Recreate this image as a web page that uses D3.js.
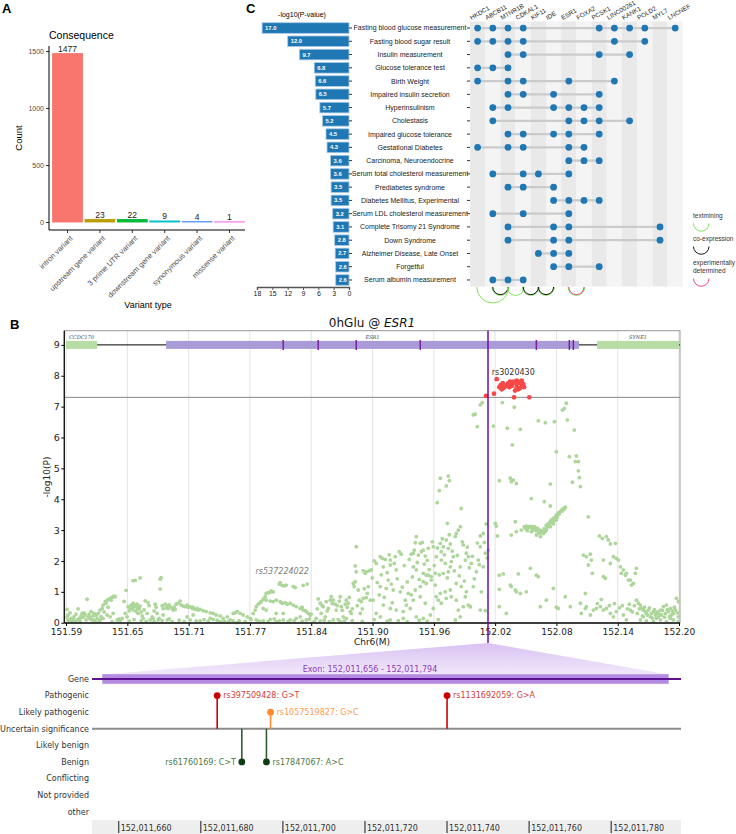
<!DOCTYPE html>
<html>
<head>
<meta charset="utf-8">
<script src="https://cdn.jsdelivr.net/npm/d3@7"></script>
<style>
  body { margin: 0; background: #fff; }
  svg { display: block; }
</style>
</head>
<body>
<svg id="fig" width="736" height="834"></svg>
<script>
// ---------- Panel A: variant consequences
const consequenceTypes = ["intron variant", "upstream gene variant", "3 prime UTR variant",
  "downstream gene variant", "synonymous variant", "missense variant"];
const consequenceCounts = [1477, 23, 22, 9, 4, 1];
const countTicks = [0, 500, 1000, 1500];

// ---------- Panel C: trait enrichment
const traits = ["Fasting blood glucose measurement", "Fasting blood sugar result", "Insulin measurement",
  "Glucose tolerance test", "Birth Weight", "Impaired insulin secretion", "Hyperinsulinism", "Cholestasis",
  "Impaired glucose tolerance", "Gestational Diabetes", "Carcinoma, Neuroendocrine",
  "Serum total cholesterol measurement", "Prediabetes syndrome", "Diabetes Mellitus, Experimental",
  "Serum LDL cholesterol measurement", "Complete Trisomy 21 Syndrome", "Down Syndrome",
  "Alzheimer Disease, Late Onset", "Forgetful", "Serum albumin measurement"];
const traitLogP = [17.0, 12.0, 9.7, 6.8, 6.6, 6.5, 5.7, 5.2, 4.5, 4.3, 3.6, 3.6, 3.5, 3.5, 3.2, 3.1, 2.8, 2.7, 2.6, 2.6];
const pvalTicks = [18, 15, 12, 9, 6, 3, 0];
const matrixGenes = ["HKDC1", "ABCB11", "MTNR1B", "CDKAL1", "KIF11", "IDE", "ESR1", "FOXA2", "PCSK1",
  "LINC00261", "KANK1", "POLD2", "MYL7", "LNCNEF"];
const traitGenes = [
  ["HKDC1", "ABCB11", "MTNR1B", "CDKAL1", "PCSK1", "LINC00261", "KANK1", "POLD2", "LNCNEF"],
  ["HKDC1", "ABCB11", "MTNR1B", "CDKAL1", "LINC00261", "POLD2"],
  ["MTNR1B", "CDKAL1", "PCSK1", "KANK1"],
  ["HKDC1", "ABCB11", "MTNR1B"],
  ["HKDC1", "MTNR1B", "CDKAL1", "ESR1", "LINC00261"],
  ["MTNR1B", "CDKAL1", "IDE", "PCSK1"],
  ["ABCB11", "MTNR1B", "IDE", "ESR1", "FOXA2", "PCSK1"],
  ["ABCB11", "ESR1", "FOXA2", "PCSK1", "KANK1"],
  ["MTNR1B", "CDKAL1", "IDE", "ESR1", "PCSK1"],
  ["HKDC1", "MTNR1B", "CDKAL1", "ESR1", "FOXA2"],
  ["ESR1", "FOXA2", "PCSK1"],
  ["ABCB11", "CDKAL1", "KIF11", "ESR1"],
  ["MTNR1B", "CDKAL1", "IDE"],
  ["IDE", "ESR1", "FOXA2", "PCSK1"],
  ["ABCB11", "CDKAL1", "ESR1"],
  ["MTNR1B", "IDE", "ESR1", "MYL7"],
  ["MTNR1B", "IDE", "ESR1", "MYL7"],
  ["KIF11", "IDE", "ESR1"],
  ["IDE", "ESR1", "PCSK1"],
  ["ABCB11", "MTNR1B", "CDKAL1"]
];
const linkTypes = ["textmining", "co-expression", "experimentally determined"];
const geneLinks = [
  ["HKDC1", "MTNR1B", "textmining"],
  ["ABCB11", "MTNR1B", "textmining"], ["ABCB11", "MTNR1B", "co-expression"],
  ["MTNR1B", "CDKAL1", "textmining"],
  ["CDKAL1", "KIF11", "textmining"], ["CDKAL1", "KIF11", "co-expression"],
  ["KIF11", "IDE", "textmining"], ["KIF11", "IDE", "co-expression"],
  ["ESR1", "FOXA2", "textmining"], ["ESR1", "FOXA2", "experimentally determined"]
];

// ---------- Panel B: locus zoom around ESR1 (Chr6, Mb)
const locusRange = [151.5899, 152.2026];
const locusTicks = [151.5899, 151.6512, 151.7125, 151.7737, 151.8350, 151.8963, 151.9576, 152.0188, 152.0801, 152.1414, 152.2026];
const locusTickLabels = ["151.59", "151.65", "151.71", "151.77", "151.84", "151.90", "151.96", "152.02", "152.08", "152.14", "152.20"];
const logPTicks = [0, 1, 2, 3, 4, 5, 6, 7, 8, 9];
const sigThreshold = 7.3;
const leadPos = 152.0117;
const trackGeneNames = ["CCDC170", "ESR1", "SYNE1"];
const trackGeneStarts = [151.5899, 151.690, 152.1207];
const trackGeneEnds = [151.621, 152.1026, 152.2026];
const esr1Exons = [151.807, 151.842, 151.880, 151.944, 152.060, 152.093, 152.097];

const greenSnps = [
  [151.591,0.43],[151.591,0.19],[151.592,0.09],[151.593,0.03],[151.595,0.14],[151.596,0.06],[151.597,0.11],[151.599,0.04],
  [151.601,0.09],[151.602,0.45],[151.603,0.14],[151.605,0.22],[151.606,0.30],[151.607,0.17],[151.609,0.25],[151.610,0.09],
  [151.611,0.76],[151.612,0.19],[151.613,0.28],[151.615,0.36],[151.616,0.09],[151.617,0.22],[151.619,0.03],[151.621,0.14],
  [151.592,0.25],[151.594,0.32],[151.598,0.20],[151.600,0.28],[151.604,0.15],[151.608,0.32],[151.614,0.18],[151.618,0.30],
  [151.620,0.24],[151.598,0.02],[151.604,0.05],[151.614,0.12],[151.618,0.08],
  [151.622,0.30],[151.624,0.41],[151.626,0.46],[151.627,0.57],[151.629,0.68],[151.630,0.63],[151.631,0.73],[151.633,0.76],
  [151.634,0.79],[151.635,0.73],[151.636,0.82],[151.637,0.84],[151.638,0.86],[151.639,0.84],[151.624,0.09],[151.627,0.14],
  [151.631,0.25],[151.634,0.19],[151.637,0.30],[151.641,0.09],[151.644,0.06],[151.646,0.14],[151.648,0.69],[151.650,1.05],
  [151.649,0.30],[151.651,0.19],[151.628,0.35],[151.632,0.50],[151.625,0.20],[151.623,0.04],[151.636,0.03],[151.643,0.12],
  [151.652,0.52],[151.654,0.46],[151.655,0.57],[151.657,0.41],[151.657,0.63],[151.659,0.52],[151.660,0.36],[151.661,0.60],
  [151.661,0.43],[151.662,0.30],[151.663,0.46],[151.664,0.54],[151.657,1.36],[151.659,1.37],[151.664,1.45],[151.666,0.22],
  [151.667,0.14],[151.669,0.71],[151.671,0.30],[151.672,0.65],[151.674,0.09],[151.676,0.19],[151.677,0.14],[151.679,0.60],
  [151.681,0.30],[151.682,0.09],[151.683,0.14],[151.684,1.09],[151.684,1.41],[151.685,1.46],[151.687,0.25],[151.687,0.46],
  [151.689,0.60],[151.691,0.54],[151.692,0.46],[151.694,0.52],[151.696,0.46],[151.697,0.41],[151.699,0.43],[151.691,0.09],
  [151.696,0.03],[151.653,0.38],[151.656,0.50],[151.658,0.58],[151.662,0.49],[151.665,0.35],[151.668,0.42],[151.673,0.55],
  [151.678,0.38],[151.680,0.50],[151.686,0.55],[151.690,0.48],[151.693,0.58],[151.698,0.50],[151.653,0.05],[151.658,0.10],
  [151.665,0.06],[151.670,0.04],[151.678,0.03],[151.686,0.07],[151.693,0.12],
  [151.700,0.60],[151.702,0.63],[151.704,0.70],[151.705,0.57],[151.707,0.54],[151.709,0.52],[151.711,0.57],[151.712,0.50],
  [151.714,0.52],[151.716,0.46],[151.717,0.50],[151.719,0.43],[151.721,0.46],[151.722,0.41],[151.724,0.43],[151.727,0.39],
  [151.730,0.36],[151.734,0.32],[151.737,0.30],[151.740,0.25],[151.744,0.22],[151.747,0.14],[151.751,0.19],[151.754,0.09],
  [151.757,0.30],[151.759,0.32],[151.761,0.36],[151.764,0.30],[151.767,0.25],[151.771,0.19],[151.774,0.14],[151.714,0.09],
  [151.724,0.06],[151.737,0.11],[151.744,0.03],[151.757,0.06],[151.761,0.00],[151.711,0.19],[151.717,0.25],[151.734,0.14],
  [151.703,0.08],[151.708,0.03],[151.720,0.06],[151.728,0.10],[151.732,0.04],[151.741,0.08],[151.748,0.05],[151.752,0.03],
  [151.763,0.07],[151.769,0.04],[151.775,0.10],
  [151.777,0.30],[151.779,0.41],[151.780,0.52],[151.782,0.60],[151.784,0.65],[151.785,0.68],[151.787,0.76],[151.789,0.84],
  [151.790,0.95],[151.792,0.97],[151.794,0.99],[151.795,1.03],[151.797,1.00],[151.803,1.25],[151.804,1.30],[151.806,1.21],
  [151.808,1.19],[151.810,1.22],[151.817,1.17],[151.819,1.14],[151.827,1.21],[151.831,1.25],[151.790,0.73],[151.794,0.70],
  [151.797,0.68],[151.800,0.73],[151.804,0.68],[151.806,0.63],[151.809,0.65],[151.811,0.60],[151.814,0.63],[151.817,0.57],
  [151.820,0.52],[151.824,0.46],[151.826,0.50],[151.827,0.41],[151.829,0.39],[151.830,0.36],[151.832,0.30],[151.834,0.25],
  [151.835,0.28],[151.780,0.09],[151.787,0.06],[151.794,0.11],[151.800,0.03],[151.807,0.09],[151.814,0.09],[151.820,0.14],
  [151.824,0.19],[151.830,0.09],[151.787,0.46],[151.790,0.41],[151.800,0.30],[151.807,0.30],[151.783,0.05],[151.792,0.03],
  [151.798,0.12],[151.803,0.06],[151.812,0.04],[151.818,0.07],[151.826,0.05],[151.833,0.12],[151.838,0.04],
  [151.840,0.14],[151.842,0.77],[151.844,0.63],[151.845,0.30],[151.847,0.52],[151.849,0.19],[151.850,0.68],[151.852,0.46],
  [151.854,0.73],[151.855,0.84],[151.857,0.73],[151.859,0.60],[151.860,0.41],[151.864,0.84],[151.865,0.52],[151.867,0.19],
  [151.870,0.73],[151.872,0.63],[151.874,0.36],[151.875,0.30],[151.877,1.27],[151.878,1.17],[151.879,1.33],[151.879,1.84],
  [151.880,2.46],[151.880,1.65],[151.882,1.06],[151.883,0.73],[151.884,0.30],[151.885,0.68],[151.887,1.68],[151.887,0.79],
  [151.889,1.60],[151.890,1.65],[151.890,0.81],[151.892,1.17],[151.893,1.68],[151.894,0.73],[151.857,0.09],[151.864,0.03],
  [151.844,0.06],[151.870,0.14],[151.841,0.45],[151.846,0.55],[151.851,0.38],[151.856,0.62],[151.861,0.55],[151.863,0.70],
  [151.866,0.40],[151.869,0.60],[151.871,0.50],[151.873,0.82],[151.876,0.45],[151.881,0.55],[151.886,0.45],[151.888,1.10],
  [151.891,0.95],[151.848,0.08],[151.853,0.03],[151.862,0.10],[151.868,0.05],[151.876,0.07],[151.886,0.04],
  [151.895,1.71],[151.897,0.73],[151.900,1.92],[151.900,0.30],[151.904,2.14],[151.904,1.17],[151.907,1.81],[151.907,0.57],
  [151.909,2.05],[151.910,1.11],[151.912,1.38],[151.914,2.03],[151.914,1.87],[151.914,0.46],[151.917,1.06],[151.919,2.14],
  [151.920,1.71],[151.920,0.41],[151.924,1.00],[151.925,2.22],[151.927,0.36],[151.929,0.73],[151.930,0.57],[151.932,0.95],
  [151.934,0.46],[151.927,0.14],[151.914,0.09],[151.904,0.19],[151.896,1.45],[151.898,2.00],[151.901,1.30],[151.903,0.90],
  [151.905,1.55],[151.906,2.08],[151.908,0.82],[151.911,1.62],[151.913,2.20],[151.915,1.25],[151.916,0.65],[151.918,1.92],
  [151.921,1.42],[151.923,2.30],[151.926,1.15],[151.928,1.85],[151.931,1.32],[151.933,2.05],[151.898,0.10],[151.911,0.05],
  [151.922,0.07],[151.931,0.03],
  [151.935,2.22],[151.937,2.25],[151.939,2.59],[151.940,2.79],[151.942,2.19],[151.944,2.57],[151.945,2.30],[151.947,2.35],
  [151.949,2.16],[151.952,2.41],[151.957,2.46],[151.937,1.81],[151.940,1.71],[151.947,1.60],[151.950,1.54],[151.952,1.54],
  [151.955,1.49],[151.959,1.60],[151.944,1.17],[151.947,1.33],[151.950,1.27],[151.955,1.38],[151.959,1.22],[151.937,0.73],
  [151.944,0.84],[151.949,0.63],[151.940,0.19],[151.947,0.14],[151.954,0.25],[151.957,0.46],[151.935,0.90],[151.939,1.06],
  [151.960,0.84],[151.936,1.48],[151.938,2.35],[151.941,1.95],[151.943,1.40],[151.946,2.60],[151.948,1.90],[151.951,2.02],
  [151.953,1.72],[151.956,2.62],[151.958,1.85],[151.943,0.08],[151.951,0.05],
  [151.961,3.89],[151.963,4.28],[151.964,4.68],[151.970,4.43],[151.972,4.75],[151.973,4.60],[151.971,3.22],[151.964,2.57],
  [151.965,2.30],[151.967,2.46],[151.970,2.68],[151.974,2.55],[151.972,2.41],[151.960,2.14],[151.965,2.03],[151.969,1.92],
  [151.974,1.81],[151.975,1.98],[151.964,0.95],[151.969,1.00],[151.974,1.06],[151.962,0.73],[151.965,0.63],[151.970,0.79],
  [151.975,0.84],[151.967,1.60],[151.972,1.65],[151.961,2.42],[151.963,1.55],[151.966,2.72],[151.968,2.20],[151.971,1.45],
  [151.973,2.85],[151.962,0.10],
  [151.977,2.14],[151.979,2.79],[151.980,2.89],[151.982,3.00],[151.984,3.11],[151.985,3.70],[151.987,2.52],[151.989,2.03],
  [151.990,2.25],[151.992,2.14],[151.984,1.81],[151.980,1.27],[151.985,1.17],[151.990,1.00],[151.982,0.41],[151.984,0.19],
  [151.979,0.09],[151.987,0.52],[151.992,0.57],[151.994,0.52],[151.980,0.73],[151.989,0.84],[151.976,2.32],[151.978,1.68],
  [151.981,2.18],[151.983,1.52],[151.986,2.62],[151.988,1.35],[151.991,2.45],[151.993,1.78],
  [151.997,6.73],[151.999,6.76],[152.001,6.35],[152.004,7.06],[152.006,7.13],[152.004,2.81],[152.007,2.89],[152.010,3.20],
  [152.009,2.25],[152.012,2.35],[152.004,2.46],[151.995,1.92],[152.002,2.03],[151.994,0.52],[152.004,0.41],[152.009,0.39],
  [152.000,1.65],[152.007,1.81],[151.997,1.17],[152.005,1.00],[151.996,2.15],[151.998,1.42],[152.001,2.58],[152.003,1.88],
  [152.008,2.60],[152.011,2.10],
  [152.017,6.37],[152.019,3.22],[152.020,3.13],[152.021,2.81],[152.023,4.60],[152.023,1.54],[152.023,1.08],[152.026,7.13],
  [152.027,1.58],[152.031,6.30],[152.034,4.68],[152.035,4.57],[152.036,5.76],[152.037,4.62],[152.038,6.98],[152.039,3.27],
  [152.040,4.51],[152.035,2.84],[152.040,2.95],[152.044,6.26],[152.045,3.00],[152.042,1.58],[152.035,1.17],[152.039,1.06],
  [152.040,1.00],[152.044,0.95],[152.034,1.22],[152.050,1.00],[152.023,0.52],[152.030,0.30],
  [152.048,3.11],[152.050,3.13],[152.051,3.06],[152.053,3.11],[152.054,3.08],[152.056,3.05],[152.058,3.11],[152.059,3.02],
  [152.060,2.98],[152.062,2.95],[152.064,3.00],[152.065,2.92],[152.067,2.89],[152.051,2.98],[152.055,2.95],[152.060,2.84],
  [152.064,2.79],[152.069,2.95],[152.070,3.16],[152.072,3.22],[152.074,3.27],[152.075,3.33],[152.077,3.38],[152.079,3.43],
  [152.080,3.49],[152.082,3.56],[152.084,3.60],[152.085,3.65],[152.087,3.70],[152.089,3.74],[152.074,3.11],[152.077,3.20],
  [152.080,3.33],[152.070,3.00],[152.055,4.02],[152.068,3.92],[152.074,3.78],[152.074,4.49],[152.062,6.54],[152.069,6.48],
  [152.078,6.51],[152.080,5.54],[152.086,6.89],[152.088,6.94],[152.090,7.11],[152.091,6.57],[152.054,1.76],[152.060,1.54],
  [152.062,1.49],[152.077,1.11],[152.082,0.46],[152.089,0.84],[152.094,0.52],[152.064,0.52],[152.080,0.50],[152.070,0.73],
  [152.049,3.05],[152.052,3.09],[152.055,3.12],[152.057,3.00],[152.061,3.06],[152.063,2.90],[152.066,2.97],[152.068,3.05],
  [152.071,3.10],[152.073,3.18],[152.076,3.25],[152.078,3.30],[152.081,3.42],[152.083,3.52],[152.086,3.62],[152.088,3.68],
  [152.093,5.38],[152.096,4.55],[152.098,6.24],[152.099,5.22],[152.100,5.40],[152.102,5.22],[152.102,4.92],[152.103,4.70],
  [152.104,4.41],[152.112,3.43],[152.107,2.19],[152.110,2.14],[152.114,2.22],[152.115,2.03],[152.112,1.87],[152.116,1.60],
  [152.104,0.63],[152.109,0.46],[152.110,0.52],[152.117,0.41],[152.120,0.46],[152.105,0.30],[152.114,0.25],[152.109,0.95],
  [152.123,2.81],[152.126,2.73],[152.130,2.79],[152.132,2.68],[152.134,2.55],[152.139,2.57],[152.127,2.03],[152.134,1.92],
  [152.137,2.14],[152.140,2.08],[152.142,2.03],[152.127,1.49],[152.129,1.44],[152.144,1.81],[152.145,1.60],[152.147,1.71],
  [152.149,1.54],[152.150,1.60],[152.152,1.38],[152.154,1.38],[152.157,1.27],[152.159,1.60],[152.160,1.76],[152.155,1.22],
  [152.124,0.52],[152.127,0.41],[152.134,0.30],[152.140,0.36],[152.147,0.25],[152.154,0.41],[152.160,0.73],[152.130,0.46],
  [152.137,0.19],[152.150,0.09],[152.121,0.62],[152.125,0.75],[152.133,0.55],[152.138,0.62],[152.143,0.48],[152.146,0.55],
  [152.151,0.45],[152.153,0.60],[152.156,0.35],[152.158,0.55],
  [152.162,0.63],[152.164,0.57],[152.165,0.46],[152.167,0.41],[152.169,0.36],[152.170,0.30],[152.172,0.41],[152.174,0.19],
  [152.175,0.30],[152.177,0.36],[152.179,0.25],[152.180,0.30],[152.182,0.19],[152.184,0.41],[152.185,0.25],[152.187,0.52],
  [152.189,0.30],[152.190,0.57],[152.192,0.36],[152.194,0.46],[152.195,0.25],[152.197,0.30],[152.199,0.41],[152.200,0.79],
  [152.202,0.68],[152.202,0.19],[152.164,0.09],[152.170,0.06],[152.177,0.03],[152.184,0.09],[152.190,0.03],[152.197,0.09],
  [152.202,0.03],[152.167,0.19],[152.180,0.14],[152.194,0.14],[152.161,0.30],[152.163,0.45],[152.166,0.22],[152.168,0.50],
  [152.171,0.25],[152.173,0.48],[152.176,0.15],[152.178,0.42],[152.181,0.35],[152.183,0.28],[152.186,0.40],[152.188,0.18],
  [152.191,0.42],[152.193,0.20],[152.196,0.38],[152.198,0.50],[152.201,0.32]
];
const redSnps = [
  [152.0097,7.35],[152.0177,7.42],[152.0204,7.89],[152.0230,7.63],[152.0244,7.70],[152.0254,7.56],[152.0264,7.76],
  [152.0270,7.60],[152.0287,7.65],[152.0304,7.70],[152.0320,7.76],[152.0330,7.63],[152.0337,7.81],[152.0354,7.78],
  [152.0354,7.67],[152.0370,7.81],[152.0377,7.30],[152.0387,7.76],[152.0387,7.52],[152.0404,7.84],[152.0404,7.63],
  [152.0420,7.76],[152.0420,7.56],[152.0437,7.81],[152.0437,7.60],[152.0454,7.84],[152.0454,7.67],[152.0470,7.73],
  [152.0477,7.63],[152.0530,7.30]
];
const leadSnp = { id: "rs3020430", pos: 152.0204, logp: 7.89 };
const otherSnp = { id: "rs537224022", pos: 151.806, logp: 1.65 };

// ---------- Panel B bottom: ClinVar variants in the exon
const exonStart = 152011656, exonEnd = 152011794;
const clinSigLevels = ["Gene", "Pathogenic", "Likely pathogenic", "Uncertain significance", "Likely benign",
  "Benign", "Conflicting", "Not provided", "other"];
const clinvarIds = ["rs397509428", "rs1057519827", "rs61760169", "rs17847067", "rs1131692059"];
const clinvarPos = [152011684, 152011697, 152011690, 152011696, 152011740];
const clinvarChange = ["G>T", "G>C", "C>T", "A>C", "G>A"];
const clinvarClass = ["Pathogenic", "Likely pathogenic", "Benign", "Benign", "Pathogenic"];
const bpTicks = [152011660, 152011680, 152011700, 152011720, 152011740, 152011760, 152011780];

// ======================================================================
const svg = d3.select("#fig");
const SANS = "'Liberation Sans', Arial, sans-serif";
const DEJAVU = "'DejaVu Sans', sans-serif";

[["A", 2, 13], ["C", 246, 13], ["B", 10, 329]].forEach(([t, x, y]) => {
  svg.append("text").attr("x", x).attr("y", y).attr("font-family", SANS)
    .attr("font-weight", "bold").attr("font-size", 13).text(t);
});

// ---------------- Panel A
const consequenceColors = ["#F8766D", "#B79F00", "#00BA38", "#00BFC4", "#619CFF", "#F564E3"];
const gA = svg.append("g").attr("font-family", SANS);
const xA = d3.scaleBand().domain(consequenceTypes).range([52, 245]).paddingInner(0.08).paddingOuter(0.02);
const yA = d3.scaleLinear().domain([0, 1500]).range([222, 51]);

gA.append("text").attr("x", 49).attr("y", 39).attr("font-size", 10.5).text("Consequence");

gA.selectAll("rect.bar").data(consequenceCounts).join("rect")
  .attr("class", "bar")
  .attr("x", (d, i) => xA(consequenceTypes[i]))
  .attr("width", xA.bandwidth())
  .attr("y", d => yA(d))
  .attr("height", d => yA(0) - yA(d))
  .attr("fill", (d, i) => consequenceColors[i])
  .attr("stroke", (d, i) => consequenceColors[i])
  .attr("stroke-width", 0.9);

gA.selectAll("text.val").data(consequenceCounts).join("text")
  .attr("class", "val")
  .attr("x", (d, i) => xA(consequenceTypes[i]) + xA.bandwidth() / 2)
  .attr("y", d => yA(d) - 1.5)
  .attr("text-anchor", "middle").attr("font-size", 8.5).attr("fill", "#222")
  .text(d => d);

const axA = gA.append("g").attr("transform", "translate(49,0)")
  .call(d3.axisLeft(yA).tickValues(countTicks).tickFormat(d3.format("d")).tickSize(3).tickPadding(2));
axA.select(".domain").remove();
axA.selectAll("text").attr("font-size", 7).attr("fill", "#4d4d4d").attr("font-family", SANS);
axA.selectAll("line").attr("stroke", "#333");
gA.append("line").attr("x1", 49).attr("x2", 49).attr("y1", 46).attr("y2", 230).attr("stroke", "#000");
gA.append("line").attr("x1", 49).attr("x2", 245).attr("y1", 230).attr("y2", 230).attr("stroke", "#000");

const axAx = gA.append("g").attr("transform", "translate(0,230)")
  .call(d3.axisBottom(xA).tickSize(3).tickFormat(""));
axAx.select(".domain").remove();
axAx.selectAll("line").attr("stroke", "#333");
gA.selectAll("text.xl").data(consequenceTypes).join("text")
  .attr("class", "xl")
  .attr("transform", d => `translate(${xA(d) + xA.bandwidth() / 2 + 2},${235}) rotate(-45)`)
  .attr("text-anchor", "end").attr("dy", "0.7em")
  .attr("font-size", 7.5).attr("fill", "#4d4d4d")
  .text(d => d);

gA.append("text").attr("transform", "translate(22,138) rotate(-90)")
  .attr("text-anchor", "middle").attr("font-size", 9.5).text("Count");
gA.append("text").attr("x", 148).attr("y", 308).attr("text-anchor", "middle")
  .attr("font-size", 9).text("Variant type");

// ---------------- Panel C
const gC = svg.append("g").attr("font-family", SANS);
const yT = d3.scaleBand().domain(traits).range([21.4, 286.6]).paddingInner(0.2).paddingOuter(0.1);
const rowY = t => yT(t) + yT.bandwidth() / 2;
const xP = d3.scaleLinear().domain([0, 18]).range([349, 257]);

gC.append("text").attr("x", 302).attr("y", 17).attr("text-anchor", "middle")
  .attr("font-size", 7).text("-log10(P-value)");

gC.selectAll("rect.pbar").data(traitLogP).join("rect")
  .attr("class", "pbar")
  .attr("x", d => xP(d)).attr("width", d => xP(0) - xP(d))
  .attr("y", (d, i) => yT(traits[i])).attr("height", yT.bandwidth())
  .attr("fill", "#1f77b4").attr("stroke", "#a9c9e6").attr("stroke-width", 0.8);

gC.selectAll("text.pval").data(traitLogP).join("text")
  .attr("class", "pval")
  .attr("x", d => xP(d) + 3).attr("y", (d, i) => rowY(traits[i]))
  .attr("dy", "0.35em").attr("font-size", 5.8).attr("font-weight", "bold").attr("fill", "#fff")
  .text(d => d.toFixed(1));

const axP = gC.append("g").attr("transform", "translate(0,287)")
  .call(d3.axisBottom(xP).tickValues(pvalTicks).tickSize(3).tickPadding(1.5));
axP.select(".domain").attr("stroke", "#555").attr("stroke-width", 1.4);
axP.selectAll("line").attr("stroke", "#555");
axP.selectAll("text").attr("font-size", 7).attr("font-family", SANS).attr("fill", "#222");

gC.selectAll("text.trait").data(traits).join("text")
  .attr("class", "trait")
  .attr("x", 410).attr("y", d => rowY(d)).attr("dy", "0.35em")
  .attr("text-anchor", "middle").attr("font-size", 7).attr("fill", "#222")
  .text(d => d);
gC.selectAll("line.tl").data(traits).join("line")
  .attr("class", "tl").attr("x1", 349).attr("x2", 352)
  .attr("y1", d => rowY(d)).attr("y2", d => rowY(d)).attr("stroke", "#333");
gC.selectAll("line.tr").data(traits).join("line")
  .attr("class", "tr").attr("x1", 467).attr("x2", 470)
  .attr("y1", d => rowY(d)).attr("y2", d => rowY(d)).attr("stroke", "#333");

// dot matrix
const xG = d3.scaleBand().domain(matrixGenes).range([470, 682.8]);
const colX = g => xG(g) + xG.bandwidth() / 2;
gC.selectAll("rect.stripe").data(matrixGenes).join("rect")
  .attr("class", "stripe")
  .attr("x", d => xG(d)).attr("width", xG.bandwidth())
  .attr("y", 21.4).attr("height", 286.6 - 21.4)
  .attr("fill", (d, i) => i % 2 === 0 ? "#e9e9e9" : "#f4f4f4");

gC.selectAll("text.gname").data(matrixGenes).join("text")
  .attr("class", "gname")
  .attr("transform", d => `translate(${colX(d) - 6},20) rotate(-30)`)
  .attr("font-size", 6.3).attr("fill", "#222")
  .text(d => d);

traitGenes.forEach((gs, i) => {
  const y = rowY(traits[i]);
  const xs = gs.map(colX);
  gC.append("line").attr("x1", d3.min(xs)).attr("x2", d3.max(xs))
    .attr("y1", y).attr("y2", y).attr("stroke", "#cbcbcb").attr("stroke-width", 2.2);
  gC.selectAll(null).data(gs).join("circle")
    .attr("cx", d => colX(d)).attr("cy", y).attr("r", 3.4).attr("fill", "#1f77b4");
});

// interaction arcs
const linkColors = { "textmining": "#7ee35a", "co-expression": "#111", "experimentally determined": "#e8458f" };
const arcPath = (x1, x2, y) => {
  const r = (x2 - x1) / 2;
  return `M${x1},${y} A${r},${r} 0 0 0 ${x2},${y}`;
};
geneLinks.forEach(([a, b, type]) => {
  const off = type === "textmining" ? 0.8 : 0;
  gC.append("path").attr("d", arcPath(colX(a) - off, colX(b) + off, 287))
    .attr("fill", "none").attr("stroke", linkColors[type]).attr("stroke-width", 1);
});

// legend
const legY = [216, 239, 263];
linkTypes.forEach((t, i) => {
  const words = t === "experimentally determined" ? ["experimentally", "determined"] : [t];
  words.forEach((w, k) => {
    gC.append("text").attr("x", 693).attr("y", legY[i] + k * 8).attr("dy", "0.35em")
      .attr("font-size", 6.5).attr("fill", "#333").text(w);
  });
  const ay = legY[i] + words.length * 8 - 0.5;
  gC.append("path").attr("d", arcPath(693.5, 709, ay))
    .attr("fill", "none").attr("stroke", linkColors[t]).attr("stroke-width", 1);
});

// ---------------- Panel B: locus plot
const gB = svg.append("g").attr("font-family", DEJAVU);
const xB = d3.scaleLinear().domain(locusRange).range([66, 679]);
const yB = d3.scaleLinear().domain([0, 9.46]).range([622.7, 330.7]);
const plotL = 64.3, plotR = 680, plotT = 330.7, plotB = 623;

const title = gB.append("text").attr("x", 372).attr("y", 327).attr("text-anchor", "middle")
  .attr("font-size", 12).attr("fill", "#111");
title.append("tspan").text("0hGlu @ ");
title.append("tspan").attr("font-style", "italic").text("ESR1");

gB.selectAll("line.grid").data(locusTicks).join("line")
  .attr("class", "grid").attr("x1", d => xB(d)).attr("x2", d => xB(d))
  .attr("y1", plotT).attr("y2", plotB).attr("stroke", "#e3e3e3");

gB.append("rect").attr("x", plotL).attr("y", plotT).attr("width", plotR - plotL).attr("height", plotB - plotT)
  .attr("fill", "none").attr("stroke", "#9a9a9a").attr("stroke-width", 1);

gB.append("line").attr("x1", plotL).attr("x2", plotR)
  .attr("y1", yB(sigThreshold)).attr("y2", yB(sigThreshold)).attr("stroke", "#888").attr("stroke-width", 1);

gB.selectAll("circle.snp").data(greenSnps).join("circle")
  .attr("class", "snp").attr("cx", d => xB(d[0])).attr("cy", d => yB(d[1]))
  .attr("r", 1.9).attr("fill", "#add69a");
gB.selectAll("circle.sig").data(redSnps).join("circle")
  .attr("class", "sig").attr("cx", d => xB(d[0])).attr("cy", d => yB(d[1]))
  .attr("r", 2.4).attr("fill", "#f74848");

gB.append("text").attr("x", xB(leadSnp.pos) - 5).attr("y", yB(leadSnp.logp) - 4)
  .attr("font-size", 8).attr("fill", "#333").text(leadSnp.id);
gB.append("text").attr("x", xB(otherSnp.pos)).attr("y", yB(otherSnp.logp) + 2)
  .attr("text-anchor", "middle").attr("font-style", "italic")
  .attr("font-size", 8).attr("fill", "#808080").text(otherSnp.id);

// gene track at the top of the plot
const trackY = yB(9);
const geneFill = ["#b7dca4", "#a99ad8", "#b7dca4"];
gB.append("line").attr("x1", xB(trackGeneStarts[0])).attr("x2", plotR)
  .attr("y1", trackY).attr("y2", trackY).attr("stroke", "#000").attr("stroke-width", 1);
trackGeneNames.forEach((name, i) => {
  gB.append("rect").attr("x", xB(trackGeneStarts[i])).attr("width", xB(trackGeneEnds[i]) - xB(trackGeneStarts[i]))
    .attr("y", trackY - 4).attr("height", 8).attr("fill", geneFill[i]);
  gB.append("text").attr("x", (xB(trackGeneStarts[i]) + xB(trackGeneEnds[i])) / 2).attr("y", trackY - 5.5)
    .attr("text-anchor", "middle").attr("font-family", "'DejaVu Serif', serif").attr("font-style", "italic")
    .attr("font-size", 5).attr("fill", "#444").text(name);
});
gB.selectAll("line.exon").data(esr1Exons).join("line")
  .attr("class", "exon").attr("x1", d => xB(d)).attr("x2", d => xB(d))
  .attr("y1", trackY - 5).attr("y2", trackY + 5).attr("stroke", "#7b1fa2").attr("stroke-width", 1.5);

// axes
const axBy = gB.append("g").attr("transform", `translate(${plotL},0)`)
  .call(d3.axisLeft(yB).tickValues(logPTicks).tickSize(3).tickPadding(1.5));
axBy.select(".domain").remove();
axBy.selectAll("text").attr("font-size", 9.5).attr("font-family", DEJAVU).attr("fill", "#222");
const axBx = gB.append("g").attr("transform", `translate(0,${plotB})`)
  .call(d3.axisBottom(xB).tickValues(locusTicks).tickFormat((d, i) => locusTickLabels[i]).tickSize(3).tickPadding(2.5));
axBx.select(".domain").remove();
axBx.selectAll("text").attr("font-size", 9).attr("font-family", DEJAVU).attr("fill", "#222");
gB.append("line").attr("x1", plotL).attr("x2", plotL).attr("y1", plotT).attr("y2", plotB)
  .attr("stroke", "#111").attr("stroke-width", 1.3);
gB.append("line").attr("x1", plotL).attr("x2", plotR).attr("y1", plotB).attr("y2", plotB)
  .attr("stroke", "#111").attr("stroke-width", 1.3);
gB.append("text").attr("transform", "translate(50,477) rotate(-90)").attr("text-anchor", "middle")
  .attr("font-size", 9).attr("fill", "#222").text("-log10(P)");
gB.append("text").attr("x", 372).attr("y", 645).attr("text-anchor", "middle")
  .attr("font-size", 9).attr("fill", "#222").text("Chr6(M)");

// ---------------- Panel B bottom: ClinVar track
const xV = d3.scaleLinear().domain([152011653.5, 152011797]).range([92, 681]);
const yV = d3.scalePoint().domain(clinSigLevels).range([679, 811.7]);
const apexX = xB(leadPos);

const defs = svg.append("defs");
const grad = defs.append("linearGradient").attr("id", "zoomGrad").attr("x1", 0).attr("x2", 0).attr("y1", 0).attr("y2", 1);
grad.append("stop").attr("offset", "0%").attr("stop-color", "#d9c2f3");
grad.append("stop").attr("offset", "100%").attr("stop-color", "#f1e8fb");
gB.append("path")
  .attr("d", `M${apexX},643 L${xV(exonStart)},674.5 L${xV(exonEnd)},674.5 Z`)
  .attr("fill", "url(#zoomGrad)");
gB.append("line").attr("x1", apexX).attr("x2", apexX).attr("y1", plotT).attr("y2", 643)
  .attr("stroke", "#6a0dad").attr("stroke-width", 1.5);

gB.append("rect").attr("x", xV(exonStart)).attr("width", xV(exonEnd) - xV(exonStart))
  .attr("y", yV("Gene") - 4.8).attr("height", 9.6).attr("fill", "#b38be0");
gB.append("line").attr("x1", 92).attr("x2", 681).attr("y1", yV("Gene")).attr("y2", yV("Gene"))
  .attr("stroke", "#5e1190").attr("stroke-width", 1.8);
gB.append("text").attr("x", 370).attr("y", yV("Gene") - 7.5).attr("text-anchor", "middle")
  .attr("font-size", 8).attr("fill", "#8a3db6")
  .text(`Exon: ${d3.format(",")(exonStart)} - ${d3.format(",")(exonEnd)}`);

gB.selectAll("text.sig").data(clinSigLevels).join("text")
  .attr("class", "sig").attr("x", 89).attr("y", d => yV(d)).attr("dy", "0.35em")
  .attr("text-anchor", "end").attr("font-size", 8).attr("fill", "#333").text(d => d);

const baseY = yV("Uncertain significance");
gB.append("line").attr("x1", 92).attr("x2", 681).attr("y1", baseY).attr("y2", baseY)
  .attr("stroke", "#8c8c8c").attr("stroke-width", 2);

const classColor = { "Pathogenic": ["#cc0000", "#cc0000", "#d23c3c"],
  "Likely pathogenic": ["#ff8a33", "#ff8a33", "#ff9a4d"],
  "Benign": ["#2f5f2f", "#0f3d12", "#4a7a45"] };
const leftLabels = new Set(["rs61760169"]);
clinvarIds.forEach((id, i) => {
  const x = xV(clinvarPos[i]), y = yV(clinvarClass[i]);
  const [stem, dot, lab] = classColor[clinvarClass[i]];
  gB.append("line").attr("x1", x).attr("x2", x).attr("y1", baseY).attr("y2", y)
    .attr("stroke", stem).attr("stroke-width", 1.6);
  gB.append("circle").attr("cx", x).attr("cy", y).attr("r", 3.4).attr("fill", dot);
  const left = leftLabels.has(id);
  gB.append("text").attr("x", left ? x - 6 : x + 6).attr("y", y).attr("dy", "0.35em")
    .attr("text-anchor", left ? "end" : "start").attr("font-size", 8).attr("fill", lab)
    .text(`${id}: ${clinvarChange[i]}`);
});

gB.append("rect").attr("x", 92).attr("y", 820).attr("width", 589).attr("height", 14).attr("fill", "#eeeeee");
gB.selectAll("line.bp").data(bpTicks).join("line")
  .attr("class", "bp").attr("x1", d => xV(d)).attr("x2", d => xV(d))
  .attr("y1", 821).attr("y2", 833).attr("stroke", "#555").attr("stroke-width", 1.4);
gB.selectAll("text.bp").data(bpTicks).join("text")
  .attr("class", "bp").attr("x", d => xV(d) + 2).attr("y", 830.5)
  .attr("font-size", 8).attr("fill", "#333").text(d => d3.format(",")(d));
</script>
</body>
</html>
